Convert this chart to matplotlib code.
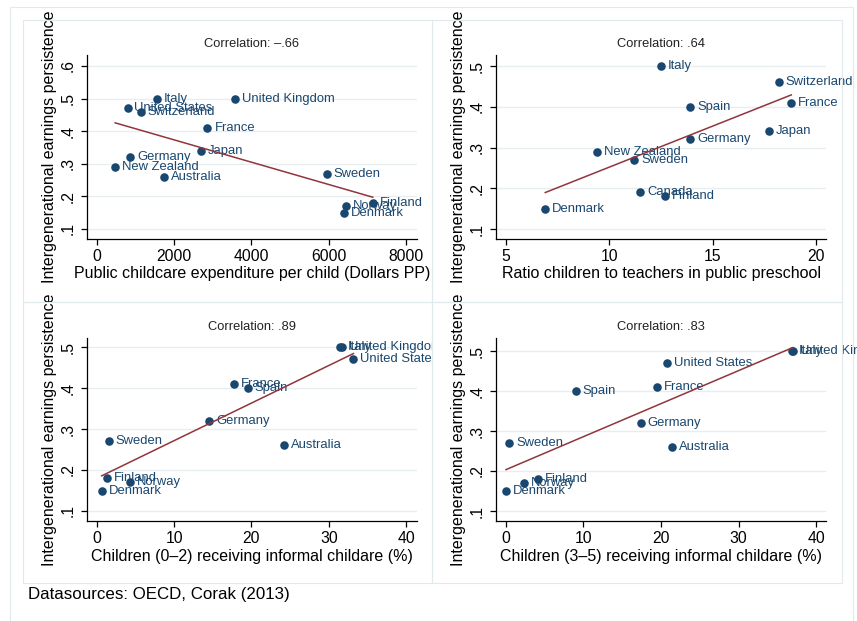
import matplotlib
matplotlib.use("Agg")
import matplotlib.pyplot as plt
import numpy as np
from matplotlib.transforms import Bbox, TransformedBbox
from matplotlib.patches import Rectangle
from matplotlib.ticker import FixedLocator, FixedFormatter

plt.rcParams['font.family'] = ['Liberation Sans', 'DejaVu Sans']

# ---------------- data ----------------
p1_countries = ["Italy", "United Kingdom", "United States", "Switzerland", "France", "Japan",
                "Germany", "New Zealand", "Australia", "Sweden", "Norway", "Finland", "Denmark"]
p1_x = [1550, 3570, 790, 1130, 2860, 2680, 860, 470, 1730, 5950, 6450, 7140, 6390]
p1_y = [0.50, 0.50, 0.47, 0.46, 0.41, 0.34, 0.32, 0.29, 0.26, 0.27, 0.17, 0.18, 0.15]

p2_countries = ["Italy", "Switzerland", "France", "Spain", "Japan", "Germany",
                "New Zealand", "Sweden", "Canada", "Finland", "Denmark"]
p2_x = [12.5, 18.2, 18.8, 13.9, 17.7, 13.9, 9.4, 11.2, 11.5, 12.7, 6.9]
p2_y = [0.50, 0.46, 0.41, 0.40, 0.34, 0.32, 0.29, 0.27, 0.19, 0.18, 0.15]

p3_countries = ["Italy", "United Kingdom", "United States", "France", "Spain", "Germany",
                "Sweden", "Australia", "Finland", "Norway", "Denmark"]
p3_x = [31.5, 31.7, 33.2, 17.7, 19.5, 14.5, 1.5, 24.2, 1.3, 4.3, 0.6]
p3_y = [0.50, 0.50, 0.47, 0.41, 0.40, 0.32, 0.27, 0.26, 0.18, 0.17, 0.15]

p4_countries = ["Italy", "United Kingdom", "United States", "Spain", "France", "Germany",
                "Sweden", "Australia", "Finland", "Norway", "Denmark"]
p4_x = [36.9, 37.0, 20.8, 9.0, 19.5, 17.4, 0.4, 21.4, 4.1, 2.3, 0.0]
p4_y = [0.50, 0.50, 0.47, 0.40, 0.41, 0.32, 0.27, 0.26, 0.18, 0.17, 0.15]

p1_xticks = [0, 2000, 4000, 6000, 8000]
p2_xticks = [5, 10, 15, 20]
p34_xticks = [0, 10, 20, 30, 40]
p1_yticks = [0.1, 0.2, 0.3, 0.4, 0.5, 0.6]
p1_yticklabels = [".1", ".2", ".3", ".4", ".5", ".6"]
p_yticks = [0.1, 0.2, 0.3, 0.4, 0.5]
p_yticklabels = [".1", ".2", ".3", ".4", ".5"]

titles = ["Correlation: \u2013.66", "Correlation: .64", "Correlation: .89", "Correlation: .83"]
xlabels = ["Public childcare expenditure per child (Dollars PP)",
           "Ratio children to teachers in public preschool",
           "Children (0\u20132) receiving informal childare (%)",
           "Children (3\u20135) receiving informal childare (%)"]
ylabel = "Intergenerational earnings persistence"
source = "Datasources: OECD, Corak (2013)"

# ---------------- styling ----------------
W, H = 857, 621
NAVY = "#1a476f"
MAROON = "#90353b"
GRID = "#e6eef0"
FRAME = "#e0e9ec"

fig = plt.figure(figsize=(W / 100, H / 100), dpi=100)
fig.patch.set_facecolor("white")


def fx(x):
    return x / W


def fy(y):
    return 1 - y / H


# frames (outer and per-panel)
fig.patches.append(Rectangle((fx(10), fy(640)), fx(853) - fx(10), fy(7) - fy(640),
                             transform=fig.transFigure, fill=False, ec=FRAME, lw=0.8))
cells = [(23, 20, 432, 302), (432, 20, 842, 302), (23, 302, 432, 583), (432, 302, 842, 583)]
for (x0, y0, x1, y1) in cells:
    fig.patches.append(Rectangle((fx(x0), fy(y1)), fx(x1) - fx(x0), fy(y0) - fy(y1),
                                 transform=fig.transFigure, fill=False, ec=FRAME, lw=0.8))

# axes boxes in pixels: left, top, right, bottom
boxes = [(87, 55, 417, 239), (496, 55, 826, 239), (87, 338, 417, 521), (496, 338, 826, 521)]
xlims = [(-259, 8285), (4.516, 20.48), (-1.29, 41.42), (-1.29, 41.29)]
ylims = [(0.0693, 0.6337), (0.0755, 0.527), (0.0756, 0.522), (0.075, 0.5325)]
clipx = [(0, 432), (432, 857), (0, 432), (432, 857)]

datasets = [(p1_countries, p1_x, p1_y, p1_xticks, p1_yticks, p1_yticklabels),
            (p2_countries, p2_x, p2_y, p2_xticks, p_yticks, p_yticklabels),
            (p3_countries, p3_x, p3_y, p34_xticks, p_yticks, p_yticklabels),
            (p4_countries, p4_x, p4_y, p34_xticks, p_yticks, p_yticklabels)]

for i, (names, xs, ys, xt, yt, ytl) in enumerate(datasets):
    l, t, r, b = boxes[i]
    ax = fig.add_axes([fx(l), fy(b), fx(r) - fx(l), fy(t) - fy(b)])
    ax.set_facecolor("white")
    ax.set_xlim(*xlims[i])
    ax.set_ylim(*ylims[i])
    for s in ["top", "right"]:
        ax.spines[s].set_visible(False)
    for s in ["left", "bottom"]:
        ax.spines[s].set_linewidth(0.9)
        ax.spines[s].set_color("black")
    ax.xaxis.set_major_locator(FixedLocator(xt))
    ax.set_xticklabels([str(v) for v in xt])
    ax.yaxis.set_major_locator(FixedLocator(yt))
    ax.yaxis.set_major_formatter(FixedFormatter(ytl))
    ax.tick_params(axis="both", direction="out", length=4.5, width=0.9, colors="black",
                   labelsize=11.3)
    ax.tick_params(axis="x", pad=3)
    ax.tick_params(axis="y", pad=4)
    for lab in ax.get_yticklabels():
        lab.set_rotation(90)
        lab.set_va("center")
    ax.grid(axis="y", color=GRID, lw=1.0)
    ax.set_axisbelow(True)

    ax.scatter(xs, ys, s=38, color=NAVY, zorder=3, linewidths=0)
    cb = TransformedBbox(Bbox([[fx(clipx[i][0]), 0], [fx(clipx[i][1]), 1]]), fig.transFigure)
    for n, xv, yv in zip(names, xs, ys):
        tx = ax.annotate(n, (xv, yv), xytext=(5, 0), textcoords="offset points",
                         va="center", ha="left", color=NAVY, fontsize=9.4, zorder=4,
                         annotation_clip=False)
        tx.set_clip_on(True)
        tx.set_clip_box(cb)

    # linear fit
    xa = np.array(xs, dtype=float)
    ya = np.array(ys, dtype=float)
    m, c = np.polyfit(xa, ya, 1)
    xx = np.array([xa.min(), xa.max()])
    ax.plot(xx, m * xx + c, color=MAROON, lw=1.1, zorder=5)

    h = b - t
    w = r - l
    ax.text(0.5, 1 + 11 / h, titles[i], transform=ax.transAxes, ha="center", va="center",
            fontsize=9.3, color="#222222")
    ax.text(0.5, -35 / h, xlabels[i], transform=ax.transAxes, ha="center", va="center",
            fontsize=11.5, color="black")
    ax.text(-37 / w, 0.5, ylabel, transform=ax.transAxes, ha="center", va="center",
            rotation=90, fontsize=11.5, color="black")

fig.text(fx(28), fy(594), source, ha="left", va="center", fontsize=12.2, color="black")

fig.savefig("out.png", dpi=100, facecolor="white")
